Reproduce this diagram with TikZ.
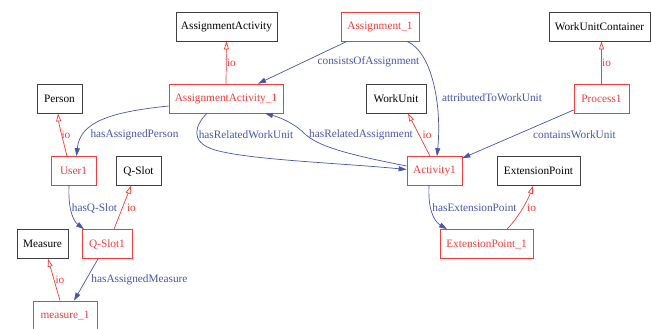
\documentclass[tikz,border=0pt]{standalone}
\usepackage{fontspec}
\setmainfont{Liberation Serif}
\usetikzlibrary{arrows.meta}
\definecolor{rc}{RGB}{245,60,60}
\definecolor{bc}{RGB}{70,85,175}
\begin{document}
\begin{tikzpicture}[x=1pt,y=-1pt,
  base/.style={line width=0.7pt, minimum height=29pt, inner sep=0pt, font=\fontsize{11.3}{13}\selectfont},
  cls/.style={base, draw=black!75, text=black},
  ind/.style={base, draw=rc, text=rc},
  io/.style={draw=rc, line width=0.7pt, -{Triangle[open,length=8pt,width=5pt]}},
  rel/.style={draw=bc, line width=0.7pt, -{Triangle[length=8pt,width=5pt]}},
  lab/.style={inner sep=0pt, font=\fontsize{11.3}{13}\selectfont},
  iolab/.style={lab, text=rc},
  rellab/.style={lab, text=bc}]
\useasboundingbox (0,0) rectangle (651,329);
% nodes
\node[cls, minimum width=101pt] (AA) at (226.5,26.5) {AssignmentActivity};
\node[ind, minimum width=78pt] (A1) at (380,26.5) {Assignment\_1};
\node[cls, minimum width=101pt] (WUC) at (599.5,26.5) {WorkUnitContainer};
\node[cls, minimum width=45pt] (P) at (59.5,98.5) {Person};
\node[ind, minimum width=114pt] (AA1) at (226,98.5) {AssignmentActivity\_1};
\node[cls, minimum width=60pt] (WU) at (396,98.5) {WorkUnit};
\node[ind, minimum width=55pt] (Pr) at (601.5,98.5) {Process1};
\node[ind, minimum width=45pt] (U) at (73.5,171) {User1};
\node[cls, minimum width=45pt] (QS) at (138.5,171) {Q-Slot};
\node[ind, minimum width=55pt] (Act) at (434.5,171) {Activity1};
\node[cls, minimum width=83pt] (EP) at (538.5,171) {ExtensionPoint};
\node[cls, minimum width=51pt] (M) at (42.5,244) {Measure};
\node[ind, minimum width=50pt] (QS1) at (107,244) {Q-Slot1};
\node[ind, minimum width=93pt] (EP1) at (486.5,244) {ExtensionPoint\_1};
\node[ind, minimum width=64pt] (M1) at (65,315.5) {measure\_1};
% io edges
\draw[io] (AA1.north) -- (AA.south);
\draw[io] ([xshift=-6.5pt]U.north) .. controls (63,140) and (59,125) .. ([xshift=-1.5pt]P.south);
\draw[io] ([xshift=-4.5pt]Act.north) -- ([xshift=12pt]WU.south);
\draw[io] (Pr.north) -- (Pr.north |- WUC.south);
\draw[io] ([xshift=7pt]QS1.north) -- ([xshift=-7.5pt]QS.south);
\draw[io] ([xshift=-5pt]M1.north) -- ([xshift=5.5pt]M.south);
\draw[io] ([xshift=20.5pt]EP1.north) .. controls (518,218) and (528,200) .. ([xshift=-5.5pt]EP.south);
% relation edges
\draw[rel] ([xshift=-33pt]A1.south) -- ([xshift=32pt]AA1.north);
\draw[rel] ([xshift=27pt]A1.south) .. controls (432,52) and (442,105) .. ([xshift=2.5pt]Act.north);
\draw[rel] ([yshift=-7.5pt]AA1.west) .. controls (110,112) and (80,122) .. ([xshift=3pt]U.north);
\draw[rel] ([xshift=-19pt]AA1.south) .. controls (196,124) and (188,142) .. (215,150)
  .. controls (250,160) and (340,163) .. ([yshift=1.5pt]Act.west);
\draw[rel] ([yshift=5pt]Act.west) .. controls (345,154) and (318,146) .. (305,134)
  .. controls (295,124) and (282,118) .. ([xshift=39pt]AA1.south);
\draw[rel] ([yshift=-11.5pt]Pr.west) -- ([yshift=-2pt]Act.north east);
\draw[rel] ([xshift=-4.5pt]U.south) .. controls (68,205) and (72,220) .. ([xshift=-23pt]QS1.north);
\draw[rel] ([xshift=-9pt]QS1.south) -- ([xshift=9pt]M1.north);
\draw[rel] ([xshift=-5.5pt]Act.south) .. controls (428,205) and (432,220) .. ([xshift=-39.5pt]EP1.north);
% labels
\node[iolab] (l1) at (231.5,63) {io};
\node[rellab] (l2) at (368.5,62) {consistsOfAssignment};
\node[rellab] (l3) at (492,98) {attributedToWorkUnit};
\node[iolab] (l4) at (606.5,63) {io};
\node[rellab] (l5) at (134.5,135) {hasAssignedPerson};
\node[iolab] (l6) at (66,135) {io};
\node[rellab] (l7) at (246,135) {hasRelatedWorkUnit};
\node[rellab] (l8) at (361,135) {hasRelatedAssignment};
\node[iolab] (l9) at (427,135) {io};
\node[rellab] (l10) at (574.5,135) {containsWorkUnit};
\node[rellab] (l11) at (94.5,208) {hasQ-Slot};
\node[iolab] (l12) at (131.5,208) {io};
\node[rellab] (l13) at (139.5,280) {hasAssignedMeasure};
\node[iolab] (l14) at (60,280) {io};
\node[rellab] (l15) at (474.5,208) {hasExtensionPoint};
\node[iolab] (l16) at (531.5,208) {io};
\end{tikzpicture}
\end{document}
